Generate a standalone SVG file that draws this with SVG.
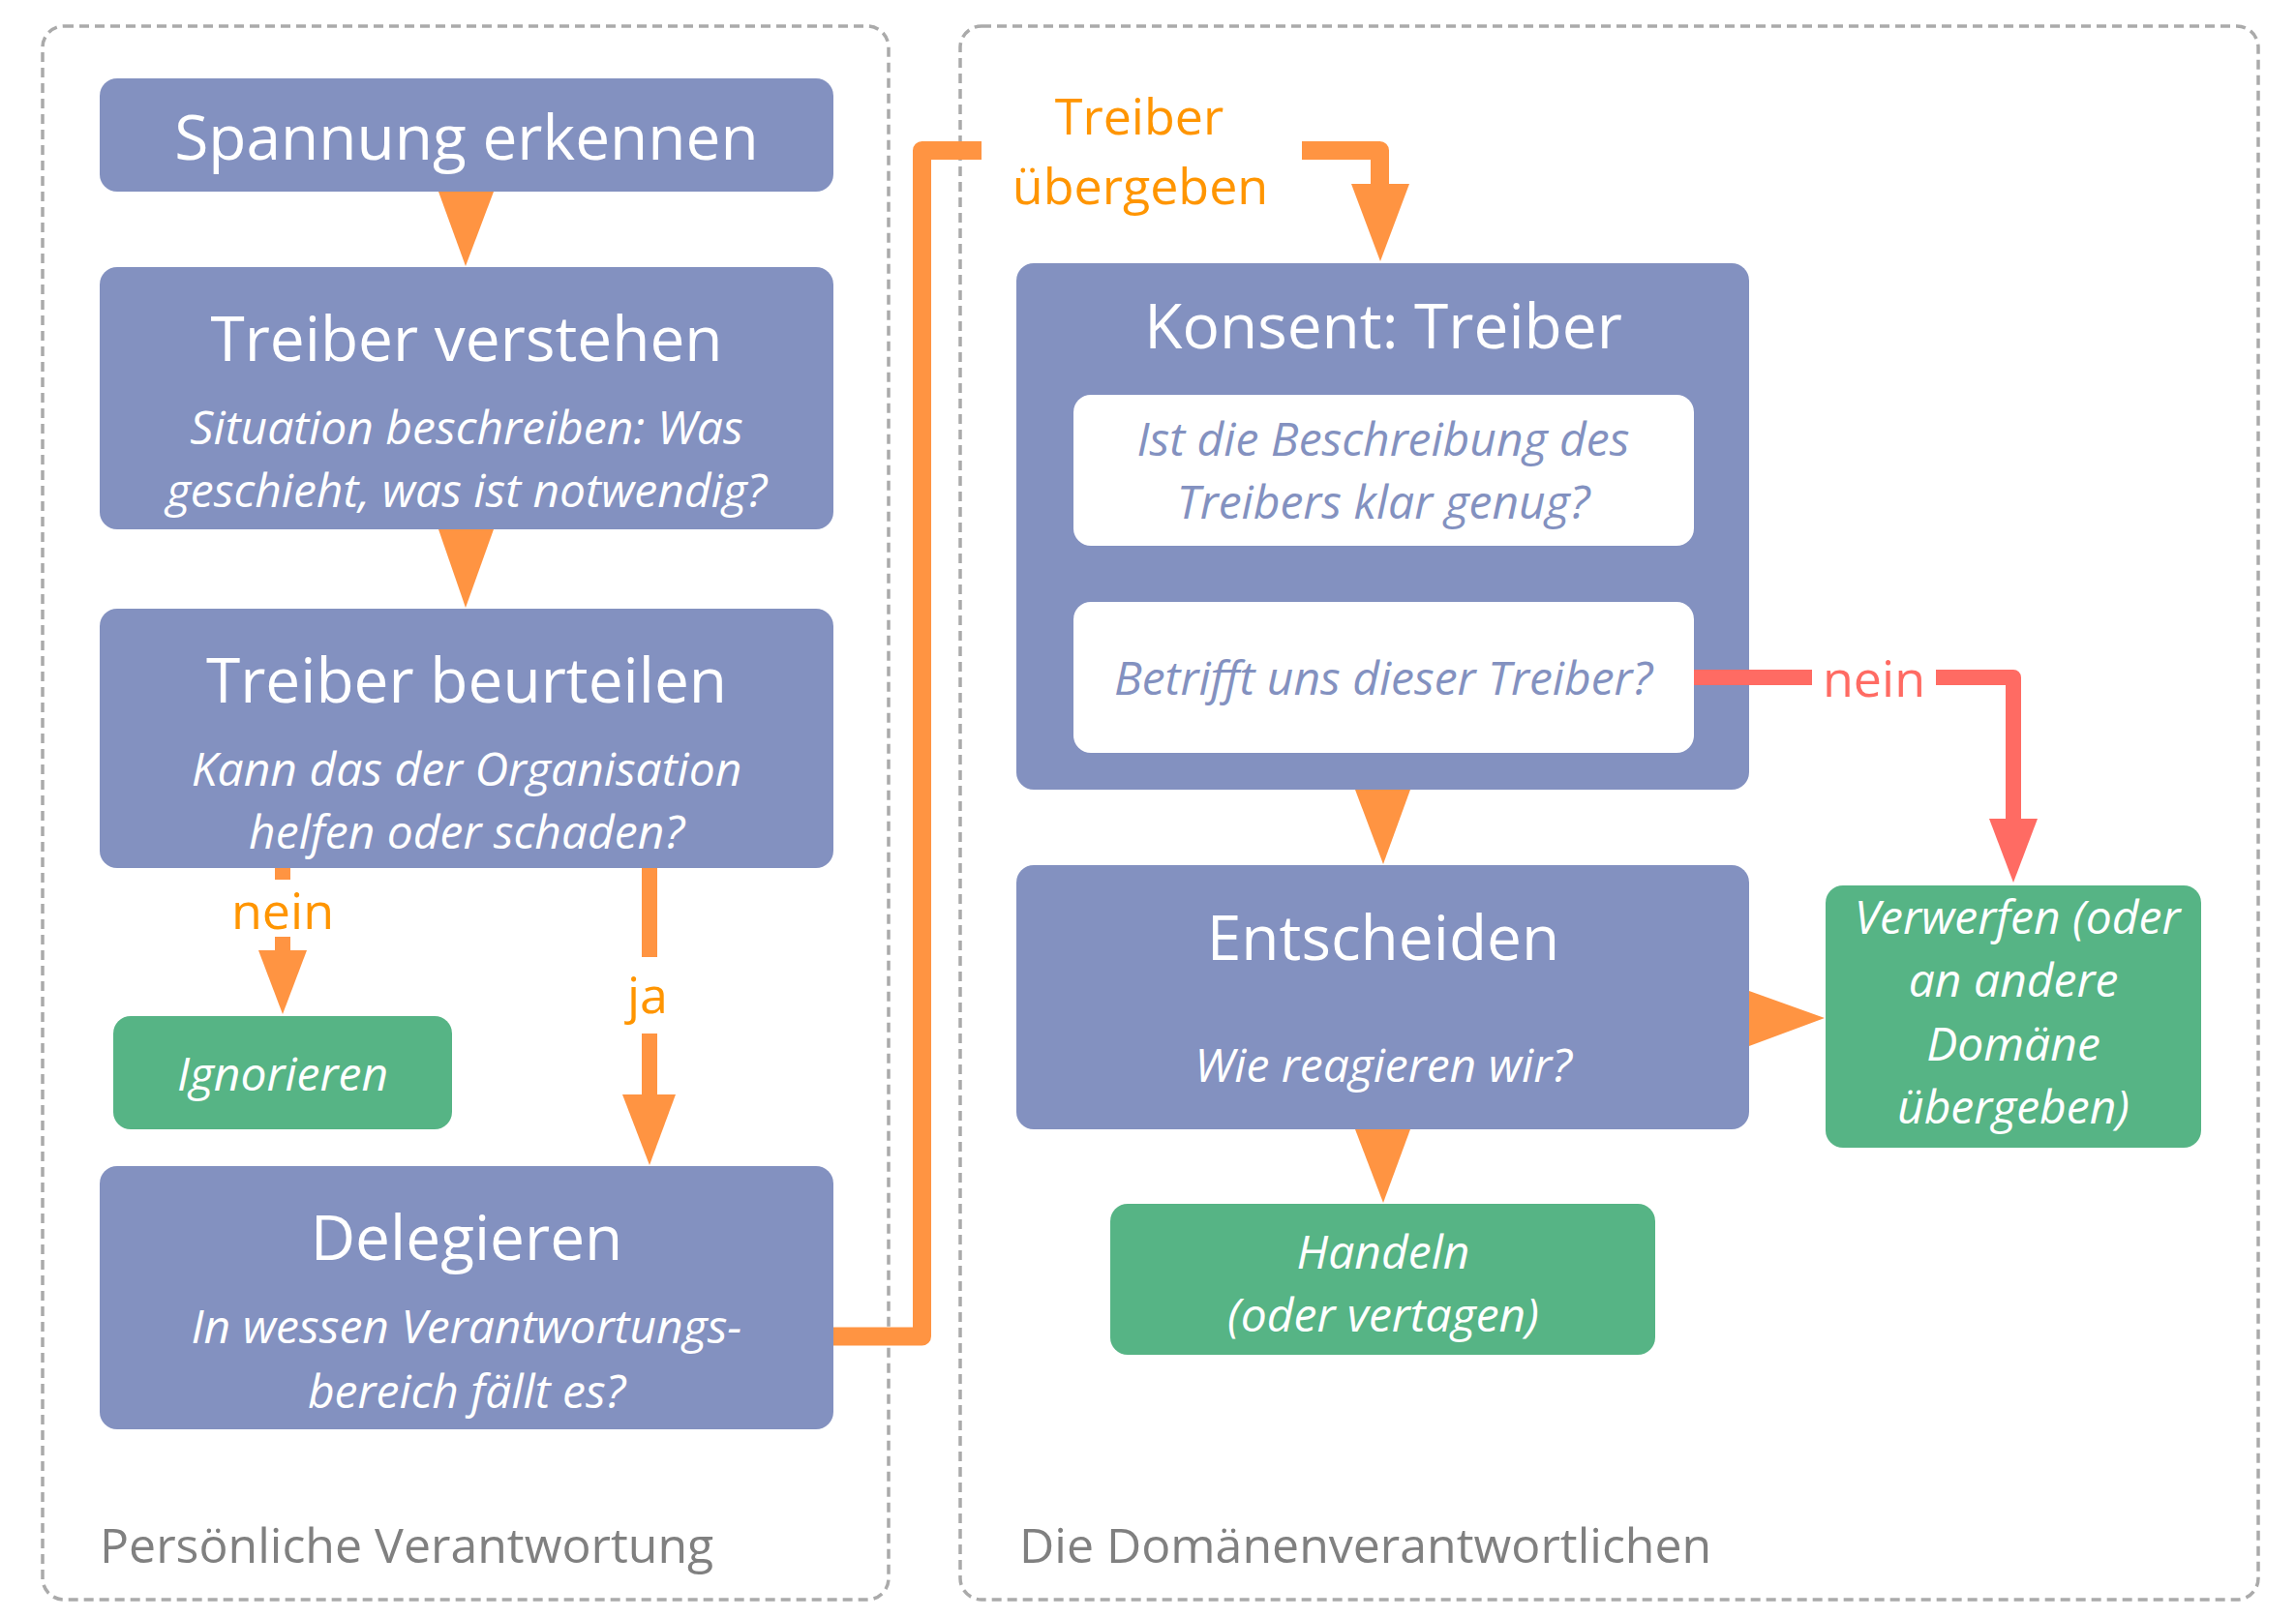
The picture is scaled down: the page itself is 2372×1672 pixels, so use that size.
<svg xmlns="http://www.w3.org/2000/svg" width="2372" height="1672" viewBox="0 0 2372 1672">
<style>
.box{fill:#8391c0}
.green{fill:#56b485}
.inner{fill:#ffffff}
.cont{fill:none;stroke:#aaaaaa;stroke-width:3.5;stroke-dasharray:10 6}
.t{font-family:"Open Sans","Liberation Sans",sans-serif;text-anchor:middle;fill:#ffffff}
.title{font-size:64px}
.sub{font-size:48px;font-style:italic}
.purpletxt{fill:#8391c0}
.clabel{font-family:"Open Sans","Liberation Sans",sans-serif;font-size:50px;fill:#808080}
.olabel{font-family:"Open Sans","Liberation Sans",sans-serif;font-size:52px;fill:#ff9500;text-anchor:middle}
.rlabel{font-family:"Open Sans","Liberation Sans",sans-serif;font-size:52px;fill:#ff6b63;text-anchor:middle}
.oline{fill:none;stroke:#ff9442;stroke-width:16;stroke-linejoin:round}
.oline2{fill:none;stroke:#ff9442;stroke-width:19;stroke-linejoin:round}
.rline{fill:none;stroke:#ff6b63;stroke-width:16;stroke-linejoin:round}
.oarr{fill:#ff9442}
.rarr{fill:#ff6b63}
</style>
<rect width="2372" height="1672" fill="#ffffff"/>
<g id="container-persoenlich">
<rect class="cont" x="44" y="27" width="874" height="1626" rx="22"/>
<text class="clabel" x="103" y="1615">Persönliche Verantwortung</text>
</g>
<g id="container-domaene">
<rect class="cont" x="992" y="27" width="1341" height="1626" rx="22"/>
<text class="clabel" x="1053" y="1615">Die Domänenverantwortlichen</text>
</g>
<g id="node-spannung">
<rect class="box" x="103" y="81" width="758" height="117" rx="18"/>
<text class="t title" x="482" y="165">Spannung erkennen</text>
</g>
<g id="node-verstehen">
<rect class="box" x="103" y="276" width="758" height="271" rx="18"/>
<text class="t title" x="482" y="373">Treiber verstehen</text>
<text class="t sub" x="482" y="459">Situation beschreiben: Was</text>
<text class="t sub" x="482" y="524">geschieht, was ist notwendig?</text>
</g>
<g id="node-beurteilen">
<rect class="box" x="103" y="629" width="758" height="268" rx="18"/>
<text class="t title" x="482" y="726">Treiber beurteilen</text>
<text class="t sub" x="482" y="812">Kann das der Organisation</text>
<text class="t sub" x="482" y="877">helfen oder schaden?</text>
</g>
<g id="node-ignorieren">
<rect class="green" x="117" y="1050" width="350" height="117" rx="18"/>
<text class="t sub" x="292" y="1127">Ignorieren</text>
</g>
<g id="node-delegieren">
<rect class="box" x="103" y="1205" width="758" height="272" rx="18"/>
<text class="t title" x="482" y="1302">Delegieren</text>
<text class="t sub" x="482" y="1388">In wessen Verantwortungs-</text>
<text class="t sub" x="482" y="1455">bereich fällt es?</text>
</g>
<g id="node-konsent">
<rect class="box" x="1050" y="272" width="757" height="544" rx="18"/>
<text class="t title" x="1429" y="360">Konsent: Treiber</text>
<rect class="inner" x="1109" y="408" width="641" height="156" rx="18"/>
<text class="t sub purpletxt" x="1429" y="471">Ist die Beschreibung des</text>
<text class="t sub purpletxt" x="1429" y="536">Treibers klar genug?</text>
<rect class="inner" x="1109" y="622" width="641" height="156" rx="18"/>
<text class="t sub purpletxt" x="1429" y="718">Betrifft uns dieser Treiber?</text>
</g>
<g id="node-entscheiden">
<rect class="box" x="1050" y="894" width="757" height="273" rx="18"/>
<text class="t title" x="1429" y="992">Entscheiden</text>
<text class="t sub" x="1429" y="1118">Wie reagieren wir?</text>
</g>
<g id="node-handeln">
<rect class="green" x="1147" y="1244" width="563" height="156" rx="18"/>
<text class="t sub" x="1429" y="1311">Handeln</text>
<text class="t sub" x="1429" y="1376">(oder vertagen)</text>
</g>
<g id="node-verwerfen">
<rect class="green" x="1886" y="915" width="388" height="271" rx="18"/>
<text class="t sub" x="2084" y="965">Verwerfen (oder</text>
<text class="t sub" x="2080" y="1030">an andere</text>
<text class="t sub" x="2080" y="1096">Domäne</text>
<text class="t sub" x="2080" y="1161">übergeben)</text>
</g>
<g id="connectors">
<polygon class="oarr" points="453,198 510,198 481,275"/>
<polygon class="oarr" points="453,547 510,547 481,628"/>
<path class="oline" d="M292,897 V909 M292,968 V983"/>
<polygon class="oarr" points="267,982 317,982 292,1048"/>
<text class="olabel" x="292" y="960">nein</text>
<path class="oline" d="M671,897 V989 M671,1068 V1132"/>
<polygon class="oarr" points="643,1131 698,1131 671,1204"/>
<text class="olabel" x="669" y="1047">ja</text>
<path class="oline2" d="M861,1381 H952.5 V155.5 H1014"/>
<path class="oline2" d="M1345,155.5 H1425.5 V191"/>
<polygon class="oarr" points="1396,190 1456,190 1426,270"/>
<text class="olabel" x="1177" y="139">Treiber</text>
<text class="olabel" x="1178" y="211">übergeben</text>
<polygon class="oarr" points="1400,816 1457,816 1429,893"/>
<polygon class="oarr" points="1807,1024 1807,1081 1885,1052"/>
<polygon class="oarr" points="1400,1167 1457,1167 1429,1243"/>
<path class="rline" d="M1750,700 H1872 M2000,700 H2080 V847"/>
<polygon class="rarr" points="2055,846 2105,846 2080,912"/>
<text class="rlabel" x="1936" y="720">nein</text>
</g>
</svg>
